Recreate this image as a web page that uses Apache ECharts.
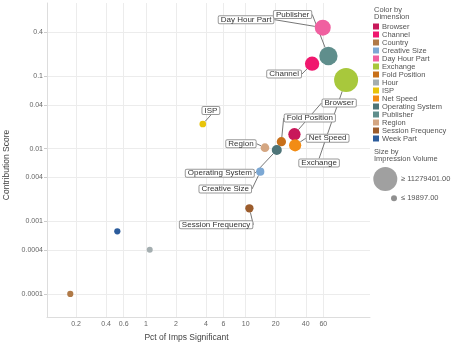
<!DOCTYPE html>
<html><head><meta charset="utf-8">
<script src="https://cdn.jsdelivr.net/npm/echarts@6/dist/echarts.min.js"></script>
<style>html,body{margin:0;padding:0;background:#fff}#c{width:454px;height:360px}</style>
</head><body><div id="c"></div><script>
const dimensions = ['Browser','Channel','Country','Creative Size','Day Hour Part','Exchange','Fold Position','Hour','ISP','Net Speed','Operating System','Publisher','Region','Session Frequency','Week Part'];
const pctImpsSignificant = [30.8, 46.3, 0.175, 14.0, 59.2, 101.4, 22.8, 1.094, 3.72, 31.3, 20.5, 67.4, 15.6, 10.9, 0.518];
const contributionScore = [0.01576, 0.1476, 0.0001, 0.00482, 0.462, 0.0881, 0.01247, 0.000407, 0.02184, 0.01112, 0.00958, 0.1885, 0.0103, 0.00151, 0.000729];
const impressionVolume = [3980000, 5230000, 150000, 1400000, 6270000, 11279401, 2100000, 19897, 440000, 3900000, 2520000, 7730000, 1690000, 1460000, 180000];
const xTickValues = [0.2, 0.4, 0.6, 1, 2, 4, 6, 10, 20, 40, 60];
const yTickValues = [0.0001, 0.0004, 0.001, 0.004, 0.01, 0.04, 0.1, 0.4];
const volumeMin = 19897, volumeMax = 11279401;

// styling / layout (not data)
const colors = ['#c8185a','#f0186e','#b07a48','#7ca8d4','#f060a0','#a8c83c','#c8701a','#a4aeb0','#e8c40a','#f28c14','#4e7478','#5f8e8c','#d4a682','#9c5c2c','#2c5c9c'];
const labelOffsets = [[44.7,-31.3],[-28,10.3],null,[-35,17.3],[-76.7,-8],[-27,83],[28.4,-23.7],null,[8.1,-13.5],[32.5,-7],[-57,23.3],[-35.8,-41.5],[-24,-4],[-33.3,16.5],null];
const FONT = '"Liberation Sans Narrow","Liberation Sans",Arial,sans-serif';

function fmt(v){ return String(+(+v).toPrecision(6)); }

const series = dimensions.map((name, i) => {
  const off = labelOffsets[i];
  return {
    name: name,
    type: 'scatter',
    data: [[pctImpsSignificant[i], contributionScore[i], impressionVolume[i]]],
    itemStyle: { color: colors[i], opacity: 1 },
    label: off ? {
      show: true, position: 'inside', formatter: name,
      fontFamily: FONT, fontSize: 8, color: '#333', lineHeight: 7,
      backgroundColor: '#fff', borderColor: '#999', borderWidth: 1, borderRadius: 1, padding: [0, 2]
    } : { show: false },
    labelLine: { show: !!off, lineStyle: { color: '#777', width: 1 } },
    labelLayout: off ? { dx: off[0], dy: off[1] } : undefined,
    emphasis: { disabled: true },
    z: 2
  };
});

const chart = echarts.init(document.getElementById('c'), null, { renderer: 'canvas' });
chart.setOption({
  animation: false,
  color: colors,
  grid: { left: 47, right: 84, top: 3, bottom: 43, containLabel: false, outerBoundsMode: 'none' },
  xAxis: {
    type: 'log', logBase: 10, min: 0.1023, max: 176,
    name: 'Pct of Imps Significant', nameLocation: 'middle', nameGap: 16,
    nameTextStyle: { fontFamily: FONT, fontSize: 8.5, color: '#444', padding: [0, 44, 0, 0] },
    axisLine: { show: true, lineStyle: { color: '#ddd' } },
    axisTick: { show: false, customValues: xTickValues },
    axisLabel: { customValues: xTickValues, formatter: fmt, fontFamily: FONT, fontSize: 7, color: '#666', margin: 4 },
    splitLine: { show: true, lineStyle: { color: '#ececec' } }
  },
  yAxis: {
    type: 'log', logBase: 10, min: 0.0000482, max: 1.01,
    name: 'Contribution Score', nameLocation: 'middle', nameGap: 32,
    nameTextStyle: { fontFamily: FONT, fontSize: 8.5, color: '#444', padding: [0, 10, 0, 0] },
    axisLine: { show: true, lineStyle: { color: '#ddd' } },
    axisTick: { show: true, length: 3, customValues: yTickValues, lineStyle: { color: '#ccc' } },
    axisLabel: { customValues: yTickValues, formatter: fmt, fontFamily: FONT, fontSize: 7, color: '#666', margin: 4 },
    splitLine: { show: true, lineStyle: { color: '#ececec' } }
  },
  visualMap: {
    show: false, type: 'continuous', dimension: 2, min: volumeMin, max: volumeMax,
    inRange: { symbolSize: [6, 24] }, seriesIndex: dimensions.map((d, i) => i)
  },
  legend: {
    orient: 'vertical', left: 373, top: 22.5, itemWidth: 6, itemHeight: 6, itemGap: 0,
    icon: 'rect', selectedMode: false, padding: 0,
    textStyle: { fontFamily: FONT, fontSize: 7.5, color: '#555', padding: [0, 0, 0, -2], lineHeight: 8 },
    data: dimensions.map((d, i) => ({ name: d, itemStyle: { color: colors[i] } }))
  },
  graphic: [
    { type: 'text', left: 374, top: 6, style: { text: 'Color by\nDimension', fontFamily: FONT, fontSize: 7.5, fill: '#555', lineHeight: 7 } },
    { type: 'text', left: 374, top: 148, style: { text: 'Size by\nImpression Volume', fontFamily: FONT, fontSize: 7.5, fill: '#555', lineHeight: 7 } },
    { type: 'circle', shape: { cx: 385.3, cy: 179, r: 12 }, style: { fill: '#a0a0a0' } },
    { type: 'circle', shape: { cx: 394, cy: 198.3, r: 3 }, style: { fill: '#909090' } },
    { type: 'text', style: { x: 401, y: 179, text: '\u2265 11279401.00', fontFamily: FONT, fontSize: 7.5, fill: '#555', verticalAlign: 'middle' } },
    { type: 'text', style: { x: 401, y: 198.3, text: '\u2264 19897.00', fontFamily: FONT, fontSize: 7.5, fill: '#555', verticalAlign: 'middle' } }
  ],
  series: series
});
</script></body></html>
